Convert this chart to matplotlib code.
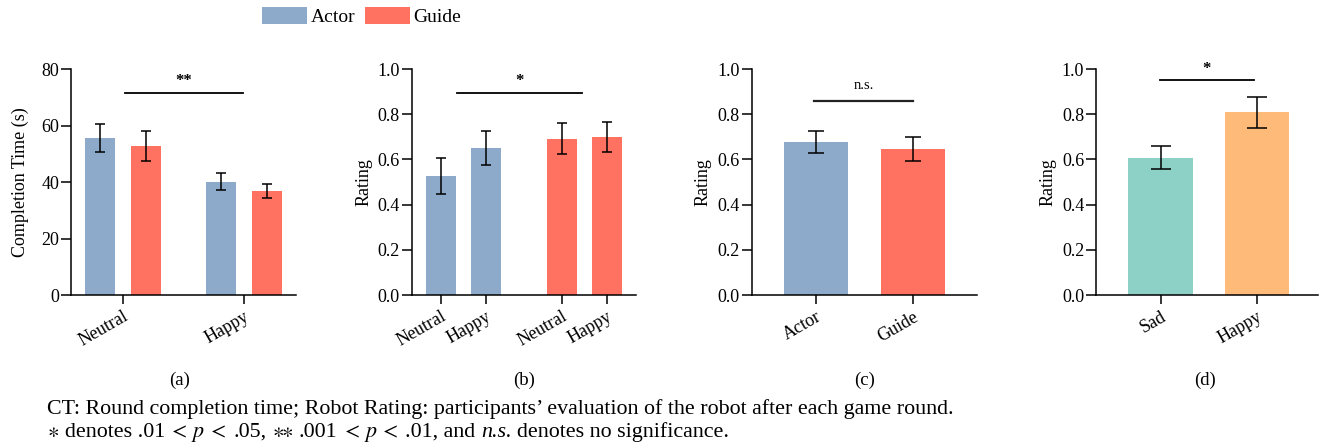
import matplotlib.pyplot as plt

plt.rcParams['font.family'] = ['Liberation Serif', 'DejaVu Serif']
plt.rcParams['mathtext.fontset'] = 'stix'
plt.rcParams['font.size'] = 13

# colours
c_actor = '#8EAACB'
c_guide = '#FF7262'
c_sad = '#8DD1C6'
c_happy = '#FDBA78'

# (a) completion time
a_groups = ['Neutral', 'Happy']
a_actor = [55.6, 40.1]
a_actor_err = [5.1, 3.0]
a_guide = [52.7, 36.8]
a_guide_err = [5.3, 2.4]

# (b) rating by role x emotion
b_labels = ['Neutral', 'Happy', 'Neutral', 'Happy']
b_pos = [0, 1, 2.68, 3.68]
b_vals = [0.527, 0.652, 0.692, 0.699]
b_err = [0.080, 0.075, 0.067, 0.068]

# (c) rating by role
c_labels = ['Actor', 'Guide']
c_vals = [0.676, 0.646]
c_err = [0.048, 0.055]

# (d) rating by emotion
d_labels = ['Sad', 'Happy']
d_vals = [0.608, 0.808]
d_err = [0.050, 0.070]

fig = plt.figure(figsize=(13.3, 4.47), dpi=100)
bottom, height = 0.340, 0.5056
ax_a = fig.add_axes([0.0534, bottom, 0.1692, height])
ax_b = fig.add_axes([0.3096, bottom, 0.1686, height])
ax_c = fig.add_axes([0.5652, bottom, 0.1694, height])
ax_d = fig.add_axes([0.8241, bottom, 0.1667, height])

ekw = dict(elinewidth=1.1, capthick=1.1)
rating_ticks = [0, 0.2, 0.4, 0.6, 0.8, 1.0]
rating_ticklabels = ['0.0', '0.2', '0.4', '0.6', '0.8', '1.0']


def style(ax):
    for s in ['top', 'right']:
        ax.spines[s].set_visible(False)
    for s in ['left', 'bottom']:
        ax.spines[s].set_linewidth(1.1)
    ax.tick_params(axis='y', length=7, width=1.1, labelsize=13, pad=1.5)
    ax.tick_params(axis='x', length=6.5, width=1.1, labelsize=13, pad=3)


def sig(ax, x1, x2, y, text, ty, size=12):
    ax.plot([x1, x2], [y, y], color='black', lw=1.3)
    ax.text((x1 + x2) / 2, ty, text, ha='center', va='center', fontsize=size,
            fontweight='bold')


# panel (a)
ax = ax_a
pos = [0, 1]
w = 0.25
off = 0.1875
ax.bar([p - off for p in pos], a_actor, width=w, color=c_actor, label='Actor',
       yerr=a_actor_err, capsize=3.6, error_kw=ekw)
ax.bar([p + off for p in pos], a_guide, width=w, color=c_guide, label='Guide',
       yerr=a_guide_err, capsize=3.6, error_kw=ekw)
ax.set_xlim(-0.43, 1.43)
ax.set_ylim(0, 80)
ax.set_yticks([0, 20, 40, 60, 80])
ax.set_xticks(pos)
ax.set_xticklabels(a_groups, rotation=30, ha='right', rotation_mode='anchor')
ax.set_ylabel('Completion Time (s)', fontsize=13, labelpad=9)
style(ax)
sig(ax, 0.015, 0.99, 71.5, '**', 75.8)

# panel (b)
ax = ax_b
cols_b = [c_actor, c_actor, c_guide, c_guide]
ax.bar(b_pos, b_vals, width=0.67, color=cols_b, yerr=b_err, capsize=3.3,
       error_kw=ekw)
ax.set_xlim(-0.65, 4.33)
ax.set_ylim(0, 1.0)
ax.set_yticks(rating_ticks)
ax.set_yticklabels(rating_ticklabels)
ax.set_xticks(b_pos)
ax.set_xticklabels(b_labels, rotation=30, ha='right', rotation_mode='anchor')
ax.set_ylabel('Rating', fontsize=13)
style(ax)
sig(ax, 0.35, 3.12, 0.895, '*', 0.945)

# panel (c)
ax = ax_c
ax.bar([0, 1], c_vals, width=0.66, color=[c_actor, c_guide], yerr=c_err,
       capsize=6, error_kw=ekw)
ax.set_xlim(-0.66, 1.66)
ax.set_ylim(0, 1.0)
ax.set_yticks(rating_ticks)
ax.set_yticklabels(rating_ticklabels)
ax.set_xticks([0, 1])
ax.set_xticklabels(c_labels, rotation=30, ha='right', rotation_mode='anchor')
ax.set_ylabel('Rating', fontsize=13)
style(ax)
ax.plot([-0.02, 1.0], [0.86, 0.86], color='#222222', lw=1.6)
ax.text(0.49, 0.925, 'n.s.', ha='center', va='center', fontsize=10.5)

# panel (d)
ax = ax_d
ax.bar([0, 1], d_vals, width=0.67, color=[c_sad, c_happy], yerr=d_err,
       capsize=7.5, error_kw=ekw)
ax.set_xlim(-0.67, 1.63)
ax.set_ylim(0, 1.0)
ax.set_yticks(rating_ticks)
ax.set_yticklabels(rating_ticklabels)
ax.set_xticks([0, 1])
ax.set_xticklabels(d_labels, rotation=30, ha='right', rotation_mode='anchor')
ax.set_ylabel('Rating', fontsize=13)
style(ax)
sig(ax, -0.01, 0.97, 0.951, '*', 1.0)

# legend
h, l = ax_a.get_legend_handles_labels()
fig.legend(h, l, loc='center', bbox_to_anchor=(0.272, 0.963), ncol=2,
           frameon=False, fontsize=14, handlelength=2.3, handleheight=1.0,
           handletextpad=0.2, columnspacing=0.5, borderpad=0)

# sub captions
for x, t in zip([0.1353, 0.394, 0.6503, 0.906], ['(a)', '(b)', '(c)', '(d)']):
    fig.text(x, 1 - 380 / 447, t, ha='center', va='center', fontsize=13.5)

# figure caption
cap_size = 15.8
x0 = 47 / 1330
fig.text(x0, 1 - 414 / 447,
         'CT: Round completion time; Robot Rating: participants\u2019 evaluation of the robot after each game round.',
         ha='left', va='baseline', fontsize=cap_size)

# second line is built piece by piece so italics and math symbols can mix
sp = cap_size * 0.25 / 72 * 100 / 1330
pieces = [(r'$\ast$', 'normal', 0),
          ('denotes .01', 'normal', sp),
          (r'$<$', 'normal', sp * 0.6),
          (r'$p$', 'normal', sp * 0.8),
          (r'$<$', 'normal', sp * 0.3),
          ('.05,', 'normal', sp * 1.3),
          (r'$\ast\!\!\ast$', 'normal', sp),
          ('.001', 'normal', sp),
          (r'$<$', 'normal', sp * 0.6),
          (r'$p$', 'normal', sp * 0.8),
          (r'$<$', 'normal', sp * 0.3),
          ('.01, and', 'normal', sp * 1.3),
          ('n.s.', 'italic', sp),
          ('denotes no significance.', 'normal', sp)]
renderer = fig.canvas.get_renderer()
x = x0
for s, st, gap in pieces:
    x += gap
    t = fig.text(x, 1 - 437 / 447, s, ha='left', va='baseline',
                 fontsize=cap_size, style=st)
    x = t.get_window_extent(renderer).x1 / fig.bbox.width

fig.savefig('out.png', dpi=100)
